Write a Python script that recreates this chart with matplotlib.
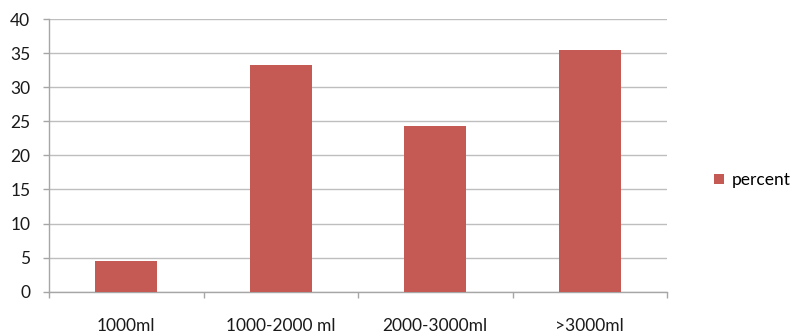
import numpy as np
import matplotlib.pyplot as plt

categories = ['1000ml', '1000-2000 ml', '2000-3000ml', '>3000ml']
percent = [4.5, 33.2, 24.3, 35.4]

plt.rcParams['font.family'] = ['Lato', 'DejaVu Sans']

fig = plt.figure(figsize=(7.9, 3.35), dpi=100)
ax = fig.add_axes([49 / 790, 43.3 / 335, 618 / 790, 272.7 / 335])

x = np.arange(len(categories))
ax.bar(x, percent, width=0.4, color='#C55A55', label='percent', zorder=3)

ax.set_xlim(-0.5, len(categories) - 0.5)
ax.set_ylim(0, 40)
ax.set_yticks(np.arange(0, 41, 5))
ax.set_xticks(x)
ax.set_xticklabels(categories)
ax.set_xticks(np.arange(-0.5, len(categories), 1), minor=True)

ax.grid(axis='y', color='#BEBEBE', linewidth=1, zorder=0)
for s in ['top', 'right']:
    ax.spines[s].set_visible(False)
for s in ['left', 'bottom']:
    ax.spines[s].set_color('#A6A6A6')
    ax.spines[s].set_linewidth(1)

ax.tick_params(axis='y', length=4.5, width=1, color='#A6A6A6', pad=9,
               labelsize=12.5, labelcolor='#1a1a1a')
ax.tick_params(axis='x', which='major', length=0, pad=19,
               labelsize=12.5, labelcolor='#1a1a1a')
ax.tick_params(axis='x', which='minor', length=4.5, width=1, color='#A6A6A6')

fig.legend(loc='center left', bbox_to_anchor=(714 / 790, 1 - 180 / 335),
           frameon=False, handlelength=0.55, handleheight=0.55,
           handletextpad=0.5, borderpad=0, borderaxespad=0, fontsize=12.5)

fig.savefig('out.png', dpi=100)
